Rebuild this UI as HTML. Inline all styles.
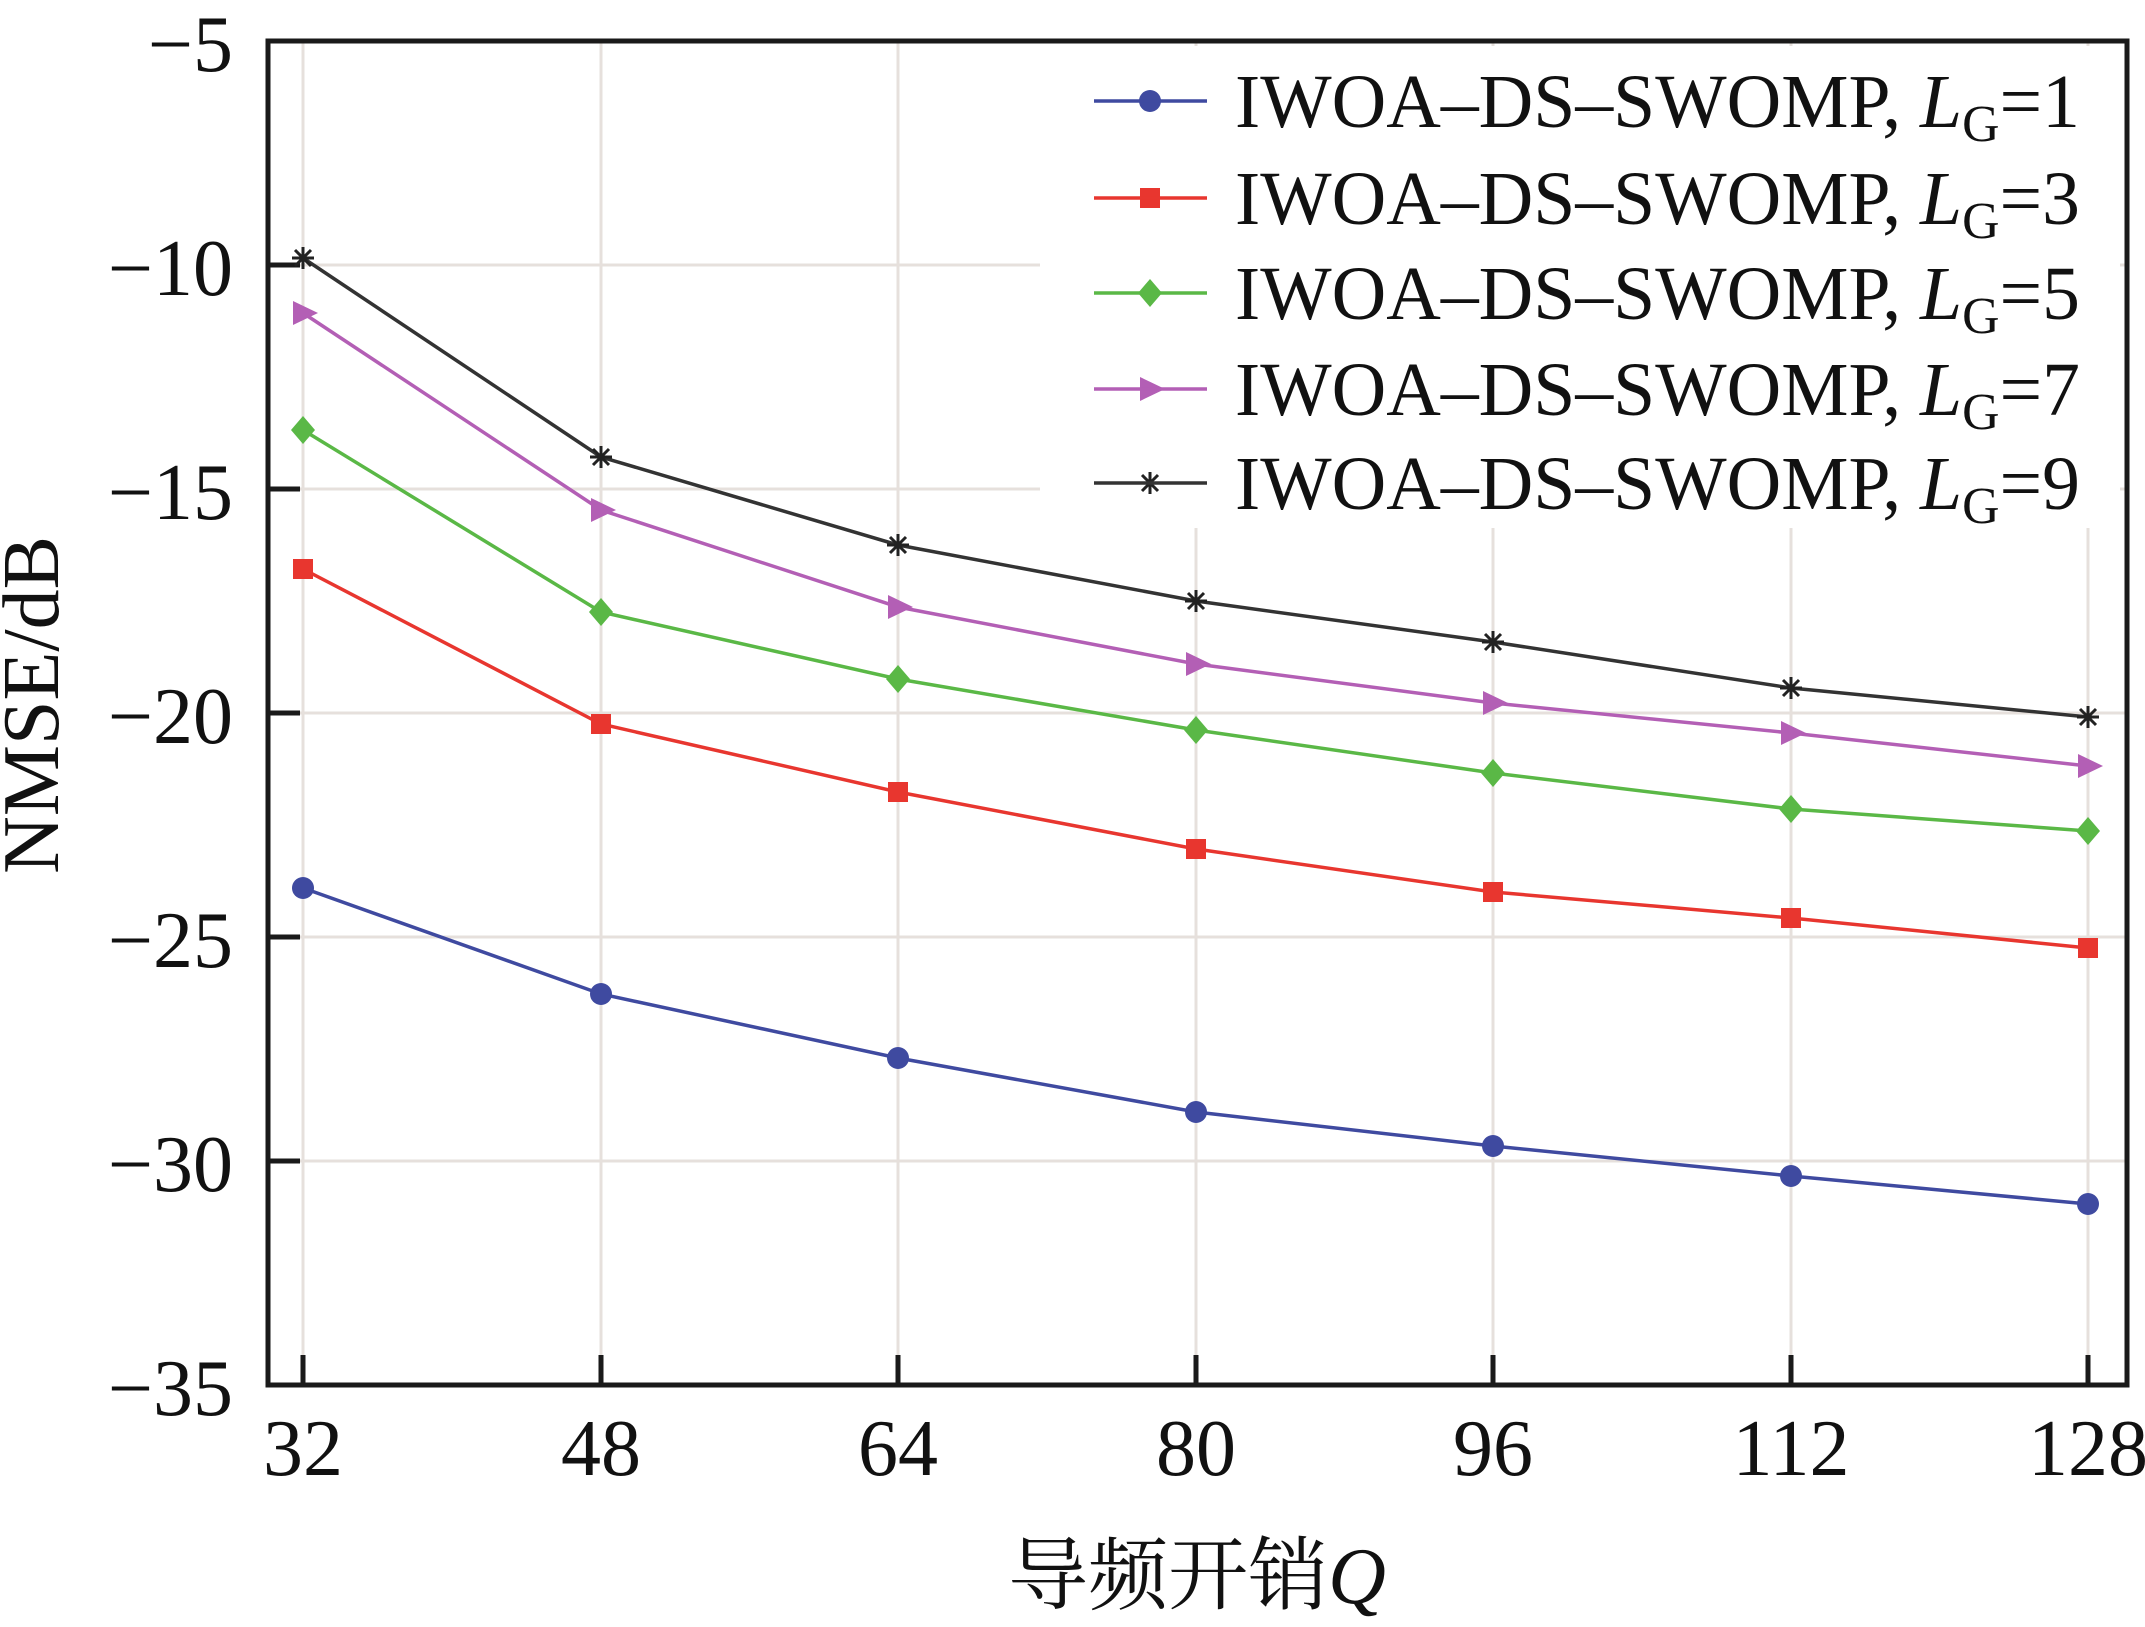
<!DOCTYPE html>
<html><head><meta charset="utf-8"><style>body{margin:0;background:#fff}</style></head><body>
<svg width="2145" height="1622" viewBox="0 0 2145 1622" xmlns="http://www.w3.org/2000/svg" font-family="'Liberation Serif','Noto Serif CJK SC',serif">
<defs>
<path id="st" d="M-11 0H11M0-11V11M-8-8L8 8M-8 8L8-8" stroke="#222" stroke-width="3" fill="none"/>
</defs>
<g stroke="#e6e0dc" stroke-width="3">
<line x1="303" y1="41" x2="303" y2="1385"/><line x1="601" y1="41" x2="601" y2="1385"/><line x1="898" y1="41" x2="898" y2="1385"/><line x1="1196" y1="41" x2="1196" y2="1385"/><line x1="1493" y1="41" x2="1493" y2="1385"/><line x1="1791" y1="41" x2="1791" y2="1385"/><line x1="2088" y1="41" x2="2088" y2="1385"/>
<line x1="268" y1="265" x2="2127" y2="265"/><line x1="268" y1="489" x2="2127" y2="489"/><line x1="268" y1="713" x2="2127" y2="713"/><line x1="268" y1="937" x2="2127" y2="937"/><line x1="268" y1="1161" x2="2127" y2="1161"/>
</g>
<rect x="1040" y="46" width="1080" height="482" fill="#fff"/>
<g stroke="#1a1a1a" stroke-width="5">
<line x1="268" y1="265" x2="300" y2="265"/><line x1="268" y1="489" x2="300" y2="489"/><line x1="268" y1="713" x2="300" y2="713"/><line x1="268" y1="937" x2="300" y2="937"/><line x1="268" y1="1161" x2="300" y2="1161"/>
<line x1="303" y1="1385" x2="303" y2="1355"/><line x1="601" y1="1385" x2="601" y2="1355"/><line x1="898" y1="1385" x2="898" y2="1355"/><line x1="1196" y1="1385" x2="1196" y2="1355"/><line x1="1493" y1="1385" x2="1493" y2="1355"/><line x1="1791" y1="1385" x2="1791" y2="1355"/><line x1="2088" y1="1385" x2="2088" y2="1355"/>
</g>
<rect x="268" y="41" width="1859" height="1344" fill="none" stroke="#1a1a1a" stroke-width="5"/>
<g font-size="80" fill="#111" text-anchor="end">
<text x="233" y="71">−5</text><text x="233" y="295">−10</text><text x="233" y="519">−15</text><text x="233" y="743">−20</text><text x="233" y="967">−25</text><text x="233" y="1191">−30</text><text x="233" y="1415">−35</text>
</g>
<g font-size="80" fill="#111" text-anchor="middle">
<text x="303" y="1475">32</text><text x="601" y="1475">48</text><text x="898" y="1475">64</text><text x="1196" y="1475">80</text><text x="1493" y="1475">96</text><text x="1791" y="1475">112</text><text x="2088" y="1475">128</text>
<text x="1197" y="1603">导频开销<tspan font-style="italic">Q</tspan></text>
<text transform="translate(58,705) rotate(-90)">NMSE/dB</text>
</g>
<g fill="none" stroke-width="3.5">
<polyline stroke="#333" points="303,258 601,457 898,545 1196,601 1493,642 1791,688 2088,717"/>
<polyline stroke="#b35fb5" points="303,313 601,510 898,607 1196,664 1493,703 1791,733 2088,766"/>
<polyline stroke="#5ab846" points="303,430 601,612 898,679 1196,730 1493,773 1791,809 2088,831"/>
<polyline stroke="#e8362f" points="303,569 601,724 898,792 1196,849 1493,892 1791,918 2088,948"/>
<polyline stroke="#3f4aa0" points="303,888 601,994 898,1058 1196,1112 1493,1146 1791,1176 2088,1204"/>
</g>
<g fill="#3f4aa0"><circle cx="303" cy="888" r="11"/><circle cx="601" cy="994" r="11"/><circle cx="898" cy="1058" r="11"/><circle cx="1196" cy="1112" r="11"/><circle cx="1493" cy="1146" r="11"/><circle cx="1791" cy="1176" r="11"/><circle cx="2088" cy="1204" r="11"/><circle cx="1150" cy="101" r="11"/></g>
<g fill="#e8362f"><rect x="293" y="559" width="20" height="20"/><rect x="591" y="714" width="20" height="20"/><rect x="888" y="782" width="20" height="20"/><rect x="1186" y="839" width="20" height="20"/><rect x="1483" y="882" width="20" height="20"/><rect x="1781" y="908" width="20" height="20"/><rect x="2078" y="938" width="20" height="20"/><rect x="1140" y="188" width="20" height="20"/></g>
<g fill="#5ab846"><path d="M303 416l12 14-12 14-12-14z"/><path d="M601 598l12 14-12 14-12-14z"/><path d="M898 665l12 14-12 14-12-14z"/><path d="M1196 716l12 14-12 14-12-14z"/><path d="M1493 759l12 14-12 14-12-14z"/><path d="M1791 795l12 14-12 14-12-14z"/><path d="M2088 817l12 14-12 14-12-14z"/><path d="M1150 279l12 14-12 14-12-14z"/></g>
<g fill="#b35fb5"><path d="M293 301l25 12-25 12z"/><path d="M591 498l25 12-25 12z"/><path d="M888 595l25 12-25 12z"/><path d="M1186 652l25 12-25 12z"/><path d="M1483 691l25 12-25 12z"/><path d="M1781 721l25 12-25 12z"/><path d="M2078 754l25 12-25 12z"/><path d="M1140 377l25 12-25 12z"/></g>
<use href="#st" x="303" y="258"/><use href="#st" x="601" y="457"/><use href="#st" x="898" y="545"/><use href="#st" x="1196" y="601"/><use href="#st" x="1493" y="642"/><use href="#st" x="1791" y="688"/><use href="#st" x="2088" y="717"/><use href="#st" x="1150" y="483"/>
<g stroke-width="3.5">
<line x1="1094" y1="101" x2="1207" y2="101" stroke="#3f4aa0"/>
<line x1="1094" y1="198" x2="1207" y2="198" stroke="#e8362f"/>
<line x1="1094" y1="293" x2="1207" y2="293" stroke="#5ab846"/>
<line x1="1094" y1="389" x2="1207" y2="389" stroke="#b35fb5"/>
<line x1="1094" y1="483" x2="1207" y2="483" stroke="#333"/>
</g>
<g font-size="76" fill="#111">
<text x="1235" y="127" textLength="845" lengthAdjust="spacingAndGlyphs">IWOA–DS–SWOMP, <tspan font-style="italic">L</tspan><tspan font-size="52" dy="14">G</tspan><tspan dy="-14">=1</tspan></text>
<text x="1235" y="224" textLength="845" lengthAdjust="spacingAndGlyphs">IWOA–DS–SWOMP, <tspan font-style="italic">L</tspan><tspan font-size="52" dy="14">G</tspan><tspan dy="-14">=3</tspan></text>
<text x="1235" y="319" textLength="845" lengthAdjust="spacingAndGlyphs">IWOA–DS–SWOMP, <tspan font-style="italic">L</tspan><tspan font-size="52" dy="14">G</tspan><tspan dy="-14">=5</tspan></text>
<text x="1235" y="415" textLength="845" lengthAdjust="spacingAndGlyphs">IWOA–DS–SWOMP, <tspan font-style="italic">L</tspan><tspan font-size="52" dy="14">G</tspan><tspan dy="-14">=7</tspan></text>
<text x="1235" y="509" textLength="845" lengthAdjust="spacingAndGlyphs">IWOA–DS–SWOMP, <tspan font-style="italic">L</tspan><tspan font-size="52" dy="14">G</tspan><tspan dy="-14">=9</tspan></text>
</g>
</svg>
</body></html>
